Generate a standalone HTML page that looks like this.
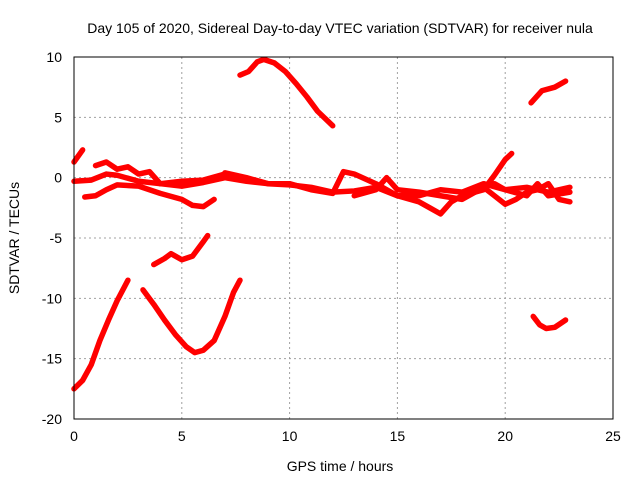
<!DOCTYPE html>
<html><head><meta charset="utf-8"><style>
body{margin:0;background:#fff}
svg text{font-family:"Liberation Sans",sans-serif;font-size:14px;fill:#000}
</style></head><body>
<svg id="chart" width="640" height="480">
<text x="340" y="33" text-anchor="middle">Day 105 of 2020, Sidereal Day-to-day VTEC variation (SDTVAR) for receiver nula</text>
<text x="340" y="471" text-anchor="middle">GPS time / hours</text>
<text transform="translate(19,238) rotate(-90)" text-anchor="middle">SDTVAR / TECUs</text>
<g id="grid"></g><g id="ticks"></g><g id="series"></g>
<rect x="74" y="57" width="539" height="362" fill="none" stroke="#000" stroke-width="1"/>
</svg>
<script>
const xTicks=[0,5,10,15,20,25];
const yTicks=[-20,-15,-10,-5,0,5,10];
const s1=[[0,-17.5],[0.4,-16.8],[0.8,-15.5],[1.2,-13.5],[1.6,-11.8],[2,-10.2],[2.5,-8.5]];
const s2=[[3.2,-9.3],[3.7,-10.5],[4.2,-11.8],[4.7,-13],[5.2,-14],[5.6,-14.5],[6,-14.3],[6.5,-13.5],[7,-11.5],[7.4,-9.5],[7.7,-8.5]];
const s3=[[3.7,-7.2],[4.2,-6.7],[4.5,-6.3],[5,-6.8],[5.5,-6.5],[6,-5.3],[6.2,-4.8]];
const s4=[[7.7,8.5],[8.1,8.8],[8.5,9.6],[8.8,9.8],[9.3,9.5],[9.8,8.8],[10.3,7.8],[10.8,6.7],[11.3,5.5],[12,4.3]];
const s5=[[0,1.3],[0.4,2.3]];
const s6=[[21.2,6.2],[21.7,7.2],[22.3,7.5],[22.8,8]];
const s7=[[21.3,-11.5],[21.6,-12.2],[21.9,-12.5],[22.3,-12.4],[22.8,-11.8]];
const s8=[[0,-0.3],[0.8,-0.2],[1.5,0.3],[2,0.2],[3,-0.3],[4,-0.5],[5,-0.7],[6,-0.4],[7,0],[8,-0.3],[9,-0.5],[10,-0.6],[11,-0.8],[12,-1.2],[13,-1.1],[14,-0.8],[15,-1.5],[16,-1.5],[17,-1],[18,-1.2],[19,-0.5],[20,-1],[21,-0.8],[22,-1.2],[23,-0.8]];
const s9=[[0.5,-1.6],[1,-1.5],[1.5,-1],[2,-0.6],[3,-0.7],[4,-1.3],[5,-1.8],[5.5,-2.3],[6,-2.4],[6.5,-1.8]];
const s10=[[1,1],[1.5,1.3],[2,0.7],[2.5,0.9],[3,0.3],[3.5,0.5],[4,-0.5],[5,-0.3],[6,-0.2],[7,0.3]];
const s11=[[7,0.4],[8,0],[9,-0.5],[10,-0.5],[11,-1],[12,-1.3],[12.5,0.5],[13,0.3],[14,-0.5],[15,-1.5],[16,-2],[16.5,-2.5],[17,-3],[17.5,-2],[18,-1.5],[19,-1],[19.5,0.2],[20,1.5],[20.3,2]];
const s12=[[13,-1.5],[14,-1],[14.5,0],[15,-1],[16,-1.2],[17,-1.5],[18,-1.8],[19,-0.8],[19.5,-1.5],[20,-2.2],[20.5,-1.8],[21,-1.2],[21.5,-1],[22,-0.5],[22.5,-1.8],[23,-2]];
const s13=[[19.5,-0.5],[20,-1],[21,-1.5],[21.5,-0.5],[22,-1.5],[23,-1.2]];
const allSeries=[s1,s2,s3,s4,s5,s6,s7,s8,s9,s10,s11,s12,s13];
const X=h=>74+h*539/25, Y=v=>57+(10-v)*362/30;
const NS='http://www.w3.org/2000/svg';
const g=document.getElementById('grid'),t=document.getElementById('ticks'),S=document.getElementById('series');
function mk(tag,attrs,parent){const e=document.createElementNS(NS,tag);for(const k in attrs)e.setAttribute(k,attrs[k]);parent.appendChild(e);return e;}
xTicks.forEach(v=>{
 const x=X(v);
 if(v>0&&v<25){const l=mk('line',{x1:x,x2:x,y1:57,y2:419,stroke:'#a0a0a0','stroke-dasharray':'2,3'},g);
 
 }
 const tx=mk('text',{x:x,y:441,'text-anchor':'middle'},t);tx.textContent=v;
 
 
});
yTicks.forEach(v=>{
 const y=Y(v);
 if(v>-20&&v<10){const l=mk('line',{x1:74,x2:613,y1:y,y2:y,stroke:'#a0a0a0','stroke-dasharray':'2,3'},g);
 
 }
 const ty=mk('text',{x:62,y:y+5,'text-anchor':'end'},t);ty.textContent=v;
 
 
});
allSeries.forEach((s,i)=>{
 const p=mk('polyline',{points:s.map(d=>X(d[0])+','+Y(d[1])).join(' '),fill:'none',stroke:'#ff0000','stroke-width':5.5,'stroke-linejoin':'round','stroke-linecap':'round'},S);
 
 
});
</script>
</body></html>
